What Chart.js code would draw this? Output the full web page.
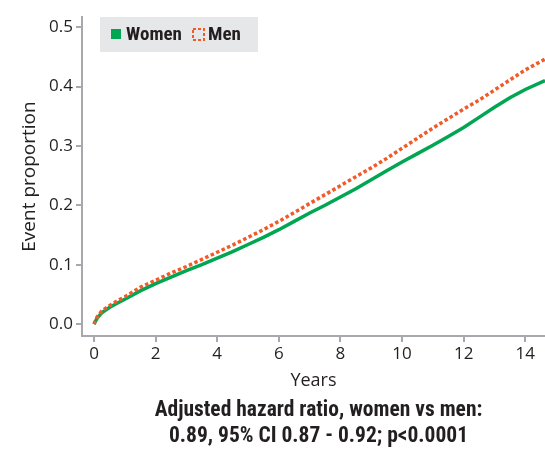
<!DOCTYPE html>
<html>
<head>
<meta charset="utf-8">
<script src="https://cdn.jsdelivr.net/npm/chart.js@4/dist/chart.umd.min.js"></script>
<style>
  html, body { margin: 0; padding: 0; background: #ffffff; }
  #wrap { width: 545px; height: 452px; }
</style>
</head>
<body>
<div id="wrap"><canvas id="chart" width="545" height="452"></canvas></div>
<script>
// Cumulative event proportion over follow-up, by sex
const years = [0, 0.1, 0.25, 0.5, 0.75, 1, 1.5, 2, 2.5, 3, 3.5, 4, 4.5, 5, 5.5, 6, 6.5, 7, 7.5, 8,
               8.5, 9, 9.5, 10, 10.5, 11, 11.5, 12, 12.5, 13, 13.5, 14, 14.64];
const women = [0, 0.010, 0.019, 0.028, 0.035, 0.042, 0.056, 0.068, 0.079, 0.090, 0.100, 0.111, 0.122,
               0.134, 0.146, 0.159, 0.173, 0.187, 0.200, 0.214, 0.228, 0.243, 0.258, 0.273, 0.287,
               0.301, 0.316, 0.331, 0.348, 0.365, 0.381, 0.395, 0.410];
const men = [0, 0.012, 0.022, 0.031, 0.039, 0.046, 0.062, 0.074, 0.086, 0.097, 0.109, 0.121, 0.133,
             0.146, 0.159, 0.173, 0.188, 0.203, 0.218, 0.233, 0.248, 0.263, 0.279, 0.296, 0.313,
             0.330, 0.346, 0.362, 0.377, 0.394, 0.411, 0.428, 0.446];
const seriesNames = ['Women', 'Men'];
const xTickValues = [0, 2, 4, 6, 8, 10, 12, 14];
const yTickValues = [0, 0.1, 0.2, 0.3, 0.4, 0.5];
const xTitle = 'Years';
const yTitle = 'Event proportion';
const noteLines = ['Adjusted hazard ratio, women vs men:', '0.89, 95% CI 0.87 - 0.92; p<0.0001'];

const GREEN = '#00a651';
const ORANGE = '#f15a29';
const AXIS = '#a7a9ac';
const TEXT = '#231f20';
const NARROW = '"Liberation Sans Narrow", "Roboto Condensed", Roboto, sans-serif';
const SANS = '"Open Sans", "Noto Sans", sans-serif';

const toPoints = (ys) => years.map((x, i) => ({ x: x, y: ys[i] }));

// Legend box in the upper-left corner of the plot, with a grey panel
const legendPanel = {
  id: 'legendPanel',
  afterDraw(chart) {
    const ctx = chart.ctx;
    const a = chart.chartArea;
    const x0 = a.left + 18, y0 = a.top;
    ctx.save();
    ctx.fillStyle = '#e6e7e8';
    ctx.fillRect(x0, y0, 158, 35);
    // Women swatch
    ctx.fillStyle = GREEN;
    ctx.fillRect(x0 + 11, y0 + 12, 10, 10);
    ctx.font = 'bold 19px ' + NARROW;
    ctx.fillStyle = TEXT;
    ctx.textBaseline = 'middle';
    ctx.textAlign = 'left';
    ctx.fillText(seriesNames[0], x0 + 26, y0 + 18);
    // Men swatch (dotted outline)
    ctx.strokeStyle = ORANGE;
    ctx.lineWidth = 2;
    ctx.setLineDash([3, 2]);
    ctx.strokeRect(x0 + 93, y0 + 12, 11, 11);
    ctx.setLineDash([]);
    ctx.fillText(seriesNames[1], x0 + 108, y0 + 18);
    ctx.restore();
  }
};

// Two-line note centred under the plot
const bottomNote = {
  id: 'bottomNote',
  afterDraw(chart) {
    const ctx = chart.ctx;
    const a = chart.chartArea;
    const cx = (a.left + a.right) / 2 + 5;
    ctx.save();
    ctx.font = 'bold 21.5px ' + NARROW;
    ctx.fillStyle = TEXT;
    ctx.textAlign = 'center';
    ctx.textBaseline = 'middle';
    ctx.fillText(noteLines[0], cx, 411);
    ctx.fillText(noteLines[1], cx, 437);
    ctx.restore();
  }
};

new Chart(document.getElementById('chart'), {
  type: 'line',
  data: {
    datasets: [
      {
        label: seriesNames[0],
        data: toPoints(women),
        borderColor: GREEN,
        borderWidth: 3.5,
        pointRadius: 0,
        tension: 0,
        order: 1
      },
      {
        label: seriesNames[1],
        data: toPoints(men),
        borderColor: ORANGE,
        borderWidth: 3.5,
        borderDash: [3.5, 2.5],
        pointRadius: 0,
        tension: 0,
        order: 0
      }
    ]
  },
  options: {
    responsive: false,
    animation: false,
    layout: { padding: { top: 17, right: 0, bottom: 56, left: 0 } },
    plugins: {
      legend: { display: false },
      tooltip: { enabled: false },
      title: { display: false }
    },
    scales: {
      x: {
        type: 'linear',
        min: -0.39,
        max: 14.64,
        afterBuildTicks: (s) => { s.ticks = xTickValues.map(v => ({ value: v })); },
        afterFit: (s) => { s.height = 60; },
        grid: { drawOnChartArea: false, drawTicks: true, tickLength: 6, color: AXIS, lineWidth: 2 },
        border: { color: AXIS, width: 2 },
        ticks: { color: TEXT, font: { family: SANS, size: 17 }, padding: 2, maxRotation: 0 },
        title: { display: true, text: xTitle, color: TEXT, font: { family: SANS, size: 18 }, padding: { top: 0, bottom: 4 } }
      },
      y: {
        type: 'linear',
        min: -0.02,
        max: 0.517,
        afterBuildTicks: (s) => { s.ticks = yTickValues.map(v => ({ value: v })); },
        afterFit: (s) => { s.width = 82; },
        grid: { drawOnChartArea: false, drawTicks: true, tickLength: 6, color: AXIS, lineWidth: 2 },
        border: { color: AXIS, width: 2 },
        ticks: { color: TEXT, font: { family: SANS, size: 17 }, padding: 3, callback: (v) => Number(v).toFixed(1) },
        title: { display: true, text: yTitle, color: TEXT, font: { family: SANS, size: 19 }, padding: { top: 18, bottom: 0 } }
      }
    }
  },
  plugins: [legendPanel, bottomNote]
});
</script>
</body>
</html>
